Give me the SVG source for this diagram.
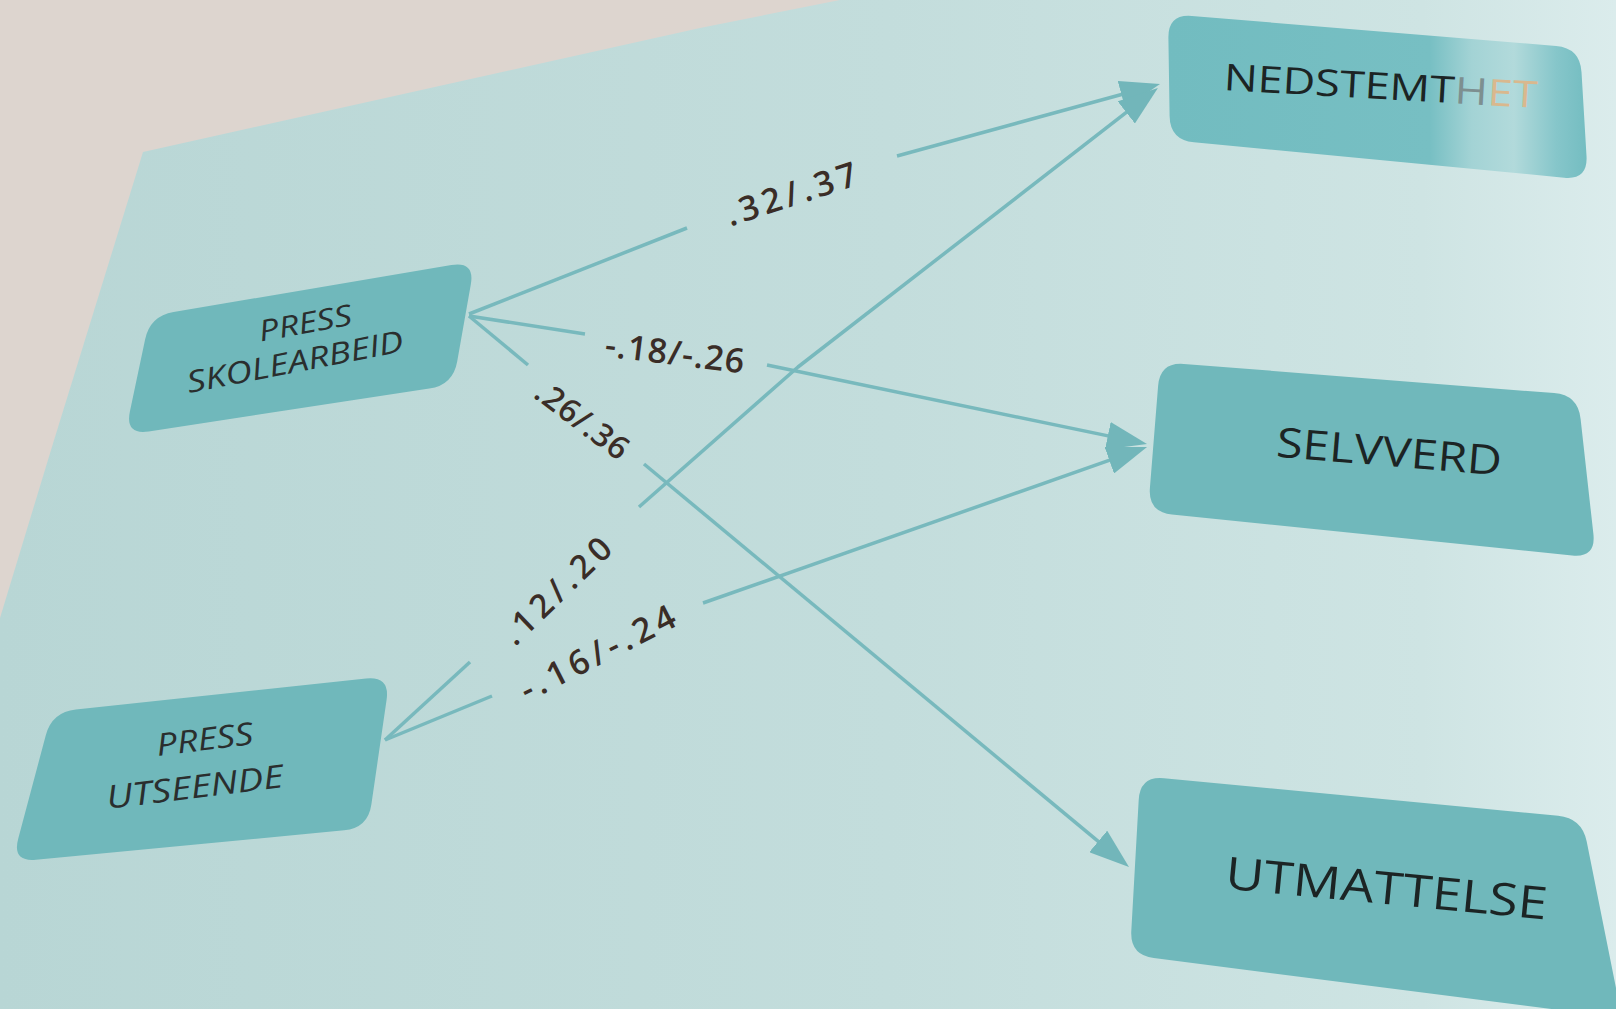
<svg xmlns="http://www.w3.org/2000/svg" width="1616" height="1009" viewBox="0 0 1616 1009">
  <defs>
    <linearGradient id="panelGrad" x1="0" y1="0" x2="1616" y2="0" gradientUnits="userSpaceOnUse">
      <stop offset="0" stop-color="#b8d6d5"/>
      <stop offset="0.55" stop-color="#c3dddc"/>
      <stop offset="0.88" stop-color="#cee4e3"/>
      <stop offset="1" stop-color="#dbecec"/>
    </linearGradient>
    <linearGradient id="glare" x1="1168" y1="0" x2="1590" y2="0" gradientUnits="userSpaceOnUse">
      <stop offset="0" stop-color="#72bcc0"/>
      <stop offset="0.62" stop-color="#77bfc3"/>
      <stop offset="0.72" stop-color="#a3d3d5"/>
      <stop offset="0.82" stop-color="#b2dadb"/>
      <stop offset="0.92" stop-color="#86c6ca"/>
      <stop offset="1" stop-color="#72bcc0"/>
    </linearGradient>
    <marker id="ah" viewBox="0 0 40 28" markerWidth="40" markerHeight="28" refX="20" refY="14" orient="auto" markerUnits="userSpaceOnUse">
      <path d="M0,0 L40,14 L0,28 Z" fill="#72b6ba"/>
    </marker>
  </defs>
  <style>
    .node { fill: #70b8bb; }
    .ntext { font-family: "Open Sans", "Liberation Sans", sans-serif; font-weight: 500; fill: #1c2424; }
    .ltext { font-family: "Open Sans", "Liberation Sans", sans-serif; font-style: italic; fill: #2a2e2e; }
    .lbl { font-family: "Open Sans", "Liberation Sans", sans-serif; font-weight: 600; fill: #3a2d27; text-anchor: middle; dominant-baseline: central; }
    .edge { fill: none; stroke: #78b9bd; stroke-width: 3.5; stroke-linecap: butt; stroke-linejoin: round; }
  </style>

  <!-- page background -->
  <rect x="0" y="0" width="1616" height="1009" fill="#ddd5cf"/>
  <path d="M143,152 L700,28 L840,0 L1616,0 L1616,1009 L0,1009 L0,618 L51,450 Z" fill="url(#panelGrad)"/>

  <!-- connectors -->
  <g id="connectors">
    <path class="edge" d="M469,314 L687,228"/>
    <path class="edge" d="M897,156 L1140.7,89.3" marker-end="url(#ah)"/>
    <path class="edge" d="M469,316 L585,334"/>
    <path class="edge" d="M767,365 L1127.4,439.9" marker-end="url(#ah)"/>
    <path class="edge" d="M469,316 L528,365"/>
    <path class="edge" d="M644,464 L1113.6,854.2" marker-end="url(#ah)"/>
    <path class="edge" d="M385,740 L470,662"/>
    <path class="edge" d="M639,507 L798,367 L1142.1,100.2" marker-end="url(#ah)"/>
    <path class="edge" d="M385,740 L492,696"/>
    <path class="edge" d="M703,603 L1128.2,453.7" marker-end="url(#ah)"/>

    <text class="lbl" font-size="34" textLength="136" lengthAdjust="spacing" transform="translate(791,193) rotate(-18)">.32/.37</text>
    <text class="lbl" font-size="34" textLength="140" lengthAdjust="spacing" transform="translate(675,352) rotate(7)">-.18/-.26</text>
    <text class="lbl" font-size="32" textLength="108" lengthAdjust="spacing" transform="translate(583,419) rotate(37)">.26/.36</text>
    <text class="lbl" font-size="33" textLength="138" lengthAdjust="spacing" transform="translate(556,590) rotate(-44)">.12/.20</text>
    <text class="lbl" font-size="34" textLength="170" lengthAdjust="spacing" transform="translate(597,652) rotate(-27)">-.16/-.24</text>
  </g>

  <!-- nodes -->
  <g id="node-press-skolearbeid">
    <path class="node" d="M173.6,312 L451.4,265 Q475,261 470.8,284.6 L457.2,361.4 Q453,385 429.3,388.6 L148.7,431.4 Q125,435 129.9,411.5 L145.1,339.5 Q150,316 173.6,312 Z"/>
    <text class="ltext" font-size="29" text-anchor="middle" textLength="94" lengthAdjust="spacingAndGlyphs" transform="translate(307,333) rotate(-10.5)">PRESS</text>
    <text class="ltext" font-size="30" text-anchor="middle" textLength="220" lengthAdjust="spacingAndGlyphs" transform="translate(297,372) rotate(-11)">SKOLEARBEID</text>
  </g>

  <g id="node-press-utseende">
    <path class="node" d="M75.9,709.5 L366.1,678.5 Q390,676 386.6,699.8 L371.4,804.2 Q368,828 344.1,830.3 L35.9,859.7 Q12,862 18.2,838.8 L45.8,735.2 Q52,712 75.9,709.5 Z"/>
    <text class="ltext" font-size="31" text-anchor="middle" textLength="97" lengthAdjust="spacingAndGlyphs" transform="translate(206,750) rotate(-7)">PRESS</text>
    <text class="ltext" font-size="32" text-anchor="middle" textLength="178" lengthAdjust="spacingAndGlyphs" transform="translate(196,798) rotate(-7)">UTSEENDE</text>
  </g>

  <g id="node-nedstemthet">
    <path d="M1191.9,16 L1556.1,46 Q1580,48 1581.5,72 L1586.5,156 Q1588,180 1564.1,177.7 L1193.9,142.3 Q1170,140 1169.6,116 L1168.4,38 Q1168,14 1191.9,16 Z" fill="url(#glare)"/>
    <text class="ntext" font-size="37" text-anchor="middle" textLength="314" lengthAdjust="spacingAndGlyphs" transform="translate(1380,99) rotate(3.3)">NEDSTEMT<tspan fill="#7d8f90">H</tspan><tspan fill="#d9b88e">ET</tspan></text>
  </g>

  <g id="node-selvverd">
    <path class="node" d="M1183.9,363.9 L1554.1,393.1 Q1578,395 1580.6,418.9 L1593.4,534.1 Q1596,558 1572.1,555.5 L1171.9,514.5 Q1148,512 1149.9,488.1 L1158.1,385.9 Q1160,362 1183.9,363.9 Z"/>
    <text class="ntext" font-size="41" text-anchor="middle" textLength="226" lengthAdjust="spacingAndGlyphs" transform="translate(1388,466) rotate(4.8)">SELVVERD</text>
  </g>

  <g id="node-utmattelse">
    <path class="node" d="M1163.9,778.3 L1558.1,815.7 Q1582,818 1586.7,841.5 L1617.3,994.5 Q1622,1018 1598.2,1015 L1153.8,958 Q1130,955 1131.3,931 L1138.7,800 Q1140,776 1163.9,778.3 Z"/>
    <text class="ntext" font-size="45" text-anchor="middle" textLength="323" lengthAdjust="spacingAndGlyphs" transform="translate(1385,904) rotate(5.5)">UTMATTELSE</text>
  </g>
</svg>
